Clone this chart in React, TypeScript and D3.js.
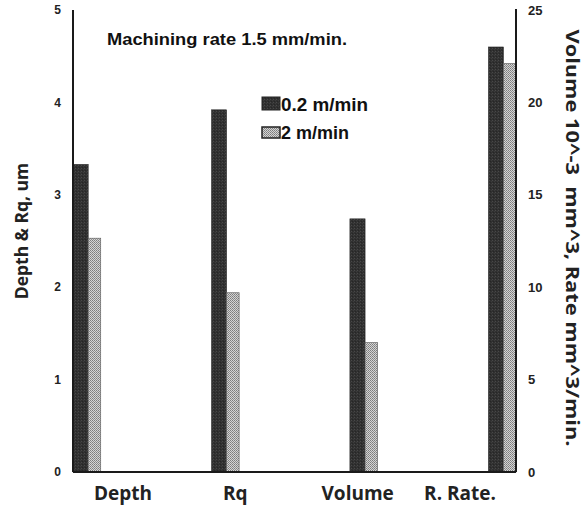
import React from "react";
import * as d3 from "d3";

// Measured quantities and the axis each one is read against
const categories = ["Depth", "Rq", "Volume", "R. Rate."];
const categoryAxis = ["left", "left", "right", "right"];
const seriesNames = ["0.2 m/min", "2 m/min"];
const slowValues = [3.33, 3.92, 13.7, 23.0]; // 0.2 m/min
const fastValues = [2.53, 1.94, 7.0, 22.1]; // 2 m/min
const leftTicks = [0, 1, 2, 3, 4, 5];
const rightTicks = [0, 5, 10, 15, 20, 25];

const W = 587;
const H = 511;
const plot = { left: 73, right: 516, top: 10, bottom: 472 };

const tickFont = "'Liberation Sans', Arial, sans-serif";
const labelFont = "'Open Sans', 'Noto Sans', sans-serif";

export default function App() {
  const yLeft = d3.scaleLinear().domain([0, 5]).range([plot.bottom, plot.top]);
  const yRight = d3.scaleLinear().domain([0, 25]).range([plot.bottom, plot.top]);

  const xBand = d3
    .scaleBand<string>()
    .domain(categories)
    .range([plot.left, plot.right])
    .paddingInner(0.8)
    .paddingOuter(0);

  // the dark bar of each pair is a little wider than the stippled one
  const bw = xBand.bandwidth();
  const split = bw * 0.55;
  const seriesOffset = [0, split];
  const seriesWidth = [split, bw - split];

  // category captions sit on their own, narrower spread under the bars
  const xLabel = d3.scalePoint<string>().domain(categories).range([123, 460]);
  const labelNudge = [0, 0, 10, 0];

  const bars = categories.flatMap((c, i) => {
    const y = categoryAxis[i] === "left" ? yLeft : yRight;
    return [
      { c, k: 0, v: slowValues[i], y },
      { c, k: 1, v: fastValues[i], y },
    ];
  });

  return (
    <div style={{ position: "fixed", left: 0, top: 0 }}>
      <svg width={W} height={H} viewBox={`0 0 ${W} ${H}`} style={{ display: "block", background: "#fff" }}>
        <defs>
          <pattern id="darkFill" width="3" height="3" patternUnits="userSpaceOnUse">
            <rect width="3" height="3" fill="#303030" />
            <rect x="0" y="0" width="1" height="1" fill="#484848" />
            <rect x="2" y="1" width="1" height="1" fill="#3c3c3c" />
            <rect x="1" y="2" width="1" height="1" fill="#262626" />
          </pattern>
          <pattern id="lightFill" width="2" height="2" patternUnits="userSpaceOnUse">
            <rect width="2" height="2" fill="#d4d4d4" />
            <rect x="0" y="0" width="1" height="1" fill="#7c7c7c" />
            <rect x="1" y="1" width="1" height="1" fill="#8e8e8e" />
          </pattern>
        </defs>

        {/* bars */}
        {bars.map((b, i) => {
          const x = (xBand(b.c) ?? 0) + seriesOffset[b.k];
          const yTop = b.y(b.v);
          const isSlow = b.k === 0;
          return (
            <rect
              key={i}
              x={x}
              y={yTop}
              width={seriesWidth[b.k]}
              height={plot.bottom - yTop}
              fill={isSlow ? "url(#darkFill)" : "url(#lightFill)"}
              stroke={isSlow ? "#2a2a2a" : "#666"}
              strokeWidth={isSlow ? 0.5 : 0.7}
            />
          );
        })}

        {/* axes */}
        <line x1={plot.left} x2={plot.left} y1={plot.top} y2={plot.bottom} stroke="#1a1a1a" strokeWidth={2} />
        <line x1={plot.right} x2={plot.right} y1={plot.top - 1} y2={plot.bottom} stroke="#1a1a1a" strokeWidth={2} />
        <line x1={plot.left} x2={plot.right} y1={plot.bottom} y2={plot.bottom} stroke="#1a1a1a" strokeWidth={2} />

        {/* left ticks */}
        {leftTicks.map((t) => (
          <text
            key={"l" + t}
            x={61}
            y={yLeft(t)}
            dy="0.35em"
            textAnchor="end"
            fontFamily={tickFont}
            fontWeight="bold"
            fontSize={12}
            fill="#222"
          >
            {t}
          </text>
        ))}

        {/* right ticks */}
        {rightTicks.map((t) => (
          <text
            key={"r" + t}
            x={528}
            y={yRight(t)}
            dy="0.35em"
            textAnchor="start"
            fontFamily={tickFont}
            fontWeight="bold"
            fontSize={13}
            fill="#222"
          >
            {t}
          </text>
        ))}

        {/* category captions */}
        {categories.map((c, i) => (
          <text
            key={"c" + c}
            x={(xLabel(c) ?? 0) + labelNudge[i]}
            y={500}
            textAnchor="middle"
            fontFamily={labelFont}
            fontWeight="bold"
            fontSize={19}
            fill="#222"
          >
            {c}
          </text>
        ))}

        {/* title */}
        <text
          x={107}
          y={45}
          fontFamily={tickFont}
          fontWeight="bold"
          fontSize={17}
          textLength={240}
          lengthAdjust="spacingAndGlyphs"
          fill="#111"
        >
          Machining rate 1.5 mm/min.
        </text>

        {/* legend */}
        <rect x={262} y={97} width={18} height={13} fill="url(#darkFill)" stroke="#222" strokeWidth={1} />
        <text x={281} y={111} fontFamily={tickFont} fontWeight="bold" fontSize={18} textLength={87} lengthAdjust="spacingAndGlyphs" fill="#111">
          {seriesNames[0]}
        </text>
        <rect x={262} y={127} width={18} height={11} fill="url(#lightFill)" stroke="#222" strokeWidth={1.5} />
        <text x={281} y={139} fontFamily={tickFont} fontWeight="bold" fontSize={18} fill="#111">
          {seriesNames[1]}
        </text>

        {/* axis titles */}
        <text
          transform={`translate(28, 231) rotate(-90)`}
          textAnchor="middle"
          fontFamily={labelFont}
          fontWeight="bold"
          fontSize={17.5}
          fill="#222"
        >
          Depth &amp; Rq, um
        </text>
        <text
          transform={`translate(566, 238) rotate(90)`}
          textAnchor="middle"
          fontFamily={labelFont}
          fontWeight="bold"
          fontSize={18.5}
          textLength={417}
          lengthAdjust="spacingAndGlyphs"
          fill="#222"
          style={{ whiteSpace: "pre" }}
        >
          {"Volume 10^-3  mm^3, Rate mm^3/min."}
        </text>
      </svg>
    </div>
  );
}
